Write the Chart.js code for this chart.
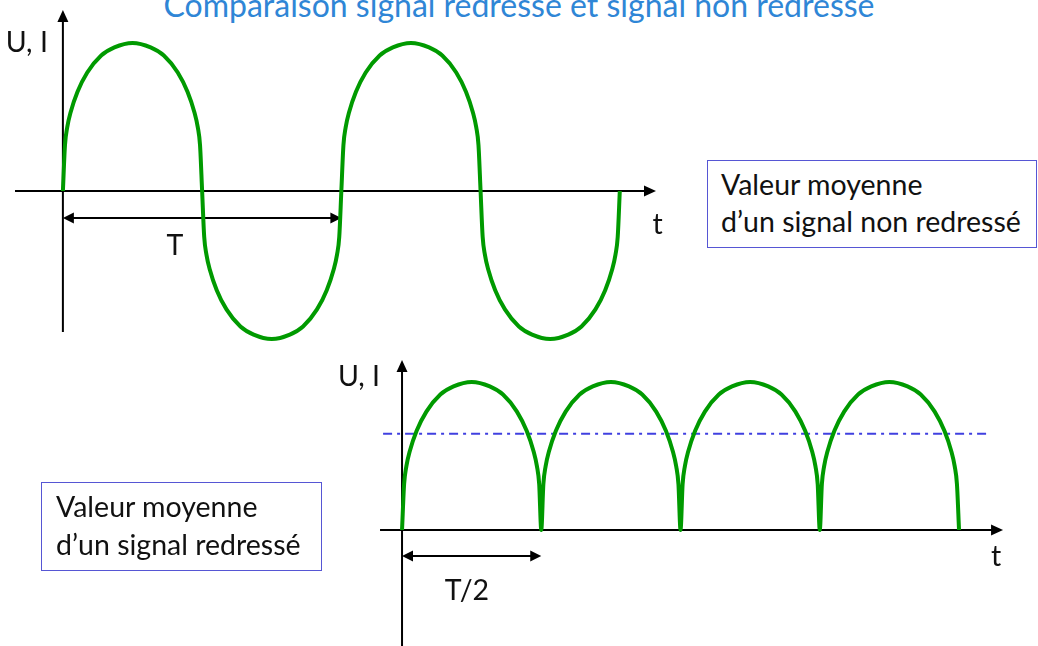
<!DOCTYPE html>
<html>
<head>
<meta charset="utf-8">
<script src="https://cdn.jsdelivr.net/npm/chart.js@4/dist/chart.umd.min.js"></script>
<style>
  html, body { margin: 0; padding: 0; background: #fff; }
  body { width: 1038px; height: 646px; position: relative; overflow: hidden; font-family: Lato, "Liberation Sans", sans-serif; }
  #title { position: absolute; left: 0; top: -11px; width: 1038px; text-align: center; color: #2f86d6; font-size: 32px; line-height: 32px; white-space: nowrap; }
  .box { position: absolute; box-sizing: border-box; border: 1.5px solid #5656d4; font-size: 28.5px; color: #111; white-space: nowrap; }
  #box1 { left: 707px; top: 160px; width: 330px; height: 88px; padding: 5px 0 0 13px; line-height: 37px; }
  #box2 { left: 41px; top: 482px; width: 281px; height: 89px; padding: 4px 0 0 14px; line-height: 38px; }
  canvas { position: absolute; }
  #top { left: 0; top: 0; }
  #bottom { left: 320px; top: 340px; }
</style>
</head>
<body>
<div id="title">Comparaison signal redressé et signal non redressé</div>
<canvas id="top" width="700" height="346"></canvas>
<canvas id="bottom" width="718" height="306"></canvas>
<div class="box" id="box1">Valeur moyenne<br>d’un signal non redressé</div>
<div class="box" id="box2">Valeur moyenne<br>d’un signal redressé</div>
<script>
// temps en périodes T
var tSamples = [
  0, 0.0075, 0.0155, 0.0275, 0.0525, 0.0875, 0.1375, 0.185, 0.25, 0.315, 0.3625, 0.4125, 0.4475, 0.4725, 0.4845, 0.4925,
  0.5, 0.5075, 0.5155, 0.5275, 0.5525, 0.5875, 0.6375, 0.685, 0.75, 0.815, 0.8625, 0.9125, 0.9475, 0.9725, 0.9845, 0.9925,
  1, 1.0075, 1.0155, 1.0275, 1.0525, 1.0875, 1.1375, 1.185, 1.25, 1.315, 1.3625, 1.4125, 1.4475, 1.4725, 1.4845, 1.4925,
  1.5, 1.5075, 1.5155, 1.5275, 1.5525, 1.5875, 1.6375, 1.685, 1.75, 1.815, 1.8625, 1.9125, 1.9475, 1.9725, 1.9845, 1.9925,
  2
];
// signal non redressé (U, I)
var uSignal = [
  0, 0.31, 0.43, 0.53, 0.67, 0.8, 0.915, 0.97, 1, 0.97, 0.915, 0.8, 0.67, 0.53, 0.43, 0.31,
  0, -0.31, -0.43, -0.53, -0.67, -0.8, -0.915, -0.97, -1, -0.97, -0.915, -0.8, -0.67, -0.53, -0.43, -0.31,
  0, 0.31, 0.43, 0.53, 0.67, 0.8, 0.915, 0.97, 1, 0.97, 0.915, 0.8, 0.67, 0.53, 0.43, 0.31,
  0, -0.31, -0.43, -0.53, -0.67, -0.8, -0.915, -0.97, -1, -0.97, -0.915, -0.8, -0.67, -0.53, -0.43, -0.31,
  0
];
// signal redressé
var uRedresse = [
  0, 0.31, 0.43, 0.53, 0.67, 0.8, 0.915, 0.97, 1, 0.97, 0.915, 0.8, 0.67, 0.53, 0.43, 0.31,
  0, 0.31, 0.43, 0.53, 0.67, 0.8, 0.915, 0.97, 1, 0.97, 0.915, 0.8, 0.67, 0.53, 0.43, 0.31,
  0, 0.31, 0.43, 0.53, 0.67, 0.8, 0.915, 0.97, 1, 0.97, 0.915, 0.8, 0.67, 0.53, 0.43, 0.31,
  0, 0.31, 0.43, 0.53, 0.67, 0.8, 0.915, 0.97, 1, 0.97, 0.915, 0.8, 0.67, 0.53, 0.43, 0.31,
  0
];
var meanValue = 0.65;
var meanRange = [-0.068, 2.1];
var axisLabel = 'U, I';
var timeLabel = 't';

function points(ts, us) {
  return ts.map(function(t, i) { return { x: t, y: us[i] }; });
}

function arrowHead(ctx, x, y, dx, dy, len, half) {
  // pointe en (x,y), direction (dx,dy)
  ctx.beginPath();
  ctx.moveTo(x, y);
  ctx.lineTo(x - dx * len - dy * half, y - dy * len + dx * half);
  ctx.lineTo(x - dx * len + dy * half, y - dy * len - dx * half);
  ctx.closePath();
  ctx.fill();
}

var decor = {
  id: 'decor',
  beforeDatasetsDraw: function(chart, args, o) {
    var ctx = chart.ctx, xs = chart.scales.x, ys = chart.scales.y;
    var X = function(v) { return xs.getPixelForValue(v); };
    var Y = function(v) { return ys.getPixelForValue(v); };
    ctx.save();
    ctx.strokeStyle = '#000';
    ctx.fillStyle = '#000';
    ctx.lineWidth = 2;
    // axe du temps
    ctx.beginPath();
    ctx.moveTo(X(o.xAxis[0]), Y(0));
    ctx.lineTo(X(o.xAxis[1]) - 8, Y(0));
    ctx.stroke();
    arrowHead(ctx, X(o.xAxis[1]), Y(0), 1, 0, 12, 5.5);
    // axe U, I
    ctx.beginPath();
    ctx.moveTo(X(0), Y(o.yAxis[0]));
    ctx.lineTo(X(0), Y(o.yAxis[1]) + 8);
    ctx.stroke();
    arrowHead(ctx, X(0), Y(o.yAxis[1]), 0, -1, 12, 5.5);
    // flèche de période
    var ya = Y(o.span.y), x0 = X(o.span.from), x1 = X(o.span.to);
    ctx.beginPath();
    ctx.moveTo(x0 + 6, ya);
    ctx.lineTo(x1 - 6, ya);
    ctx.stroke();
    arrowHead(ctx, x0, ya, -1, 0, 11, 5.5);
    arrowHead(ctx, x1, ya, 1, 0, 11, 5.5);
    // textes
    ctx.font = '28.5px Lato, "Liberation Sans", sans-serif';
    ctx.fillStyle = '#111';
    ctx.textBaseline = 'alphabetic';
    o.labels.forEach(function(l) {
      ctx.textAlign = l.align;
      ctx.fillText(l.text, X(l.x), Y(l.y));
    });
    ctx.restore();
  }
};

var common = {
  responsive: false,
  animation: false,
  events: [],
  elements: { point: { radius: 0 }, line: { cubicInterpolationMode: 'monotone', borderJoinStyle: 'round', borderCapStyle: 'butt' } },
  plugins: { legend: { display: false }, tooltip: { enabled: false } }
};

new Chart(document.getElementById('top'), {
  type: 'scatter',
  data: {
    datasets: [{
      data: points(tSamples, uSignal),
      showLine: true,
      borderColor: '#009a00',
      borderWidth: 4,
      fill: false
    }]
  },
  options: Object.assign({}, common, {
    layout: { padding: { left: 15, top: 8, right: 44, bottom: 0 } },
    scales: {
      x: { type: 'linear', display: false, min: -0.172, max: 2.13 },
      y: { type: 'linear', display: false, min: -1.047, max: 1.236 }
    },
    plugins: Object.assign({}, common.plugins, {
      decor: {
        xAxis: [-0.172, 2.13],
        yAxis: [-0.953, 1.223],
        span: { from: 0, to: 1, y: -0.182 },
        labels: [
          { text: axisLabel, x: -0.054, y: 0.94, align: 'right' },
          { text: timeLabel, x: 2.136, y: -0.29, align: 'center' },
          { text: 'T', x: 0.402, y: -0.43, align: 'center' }
        ]
      }
    })
  }),
  plugins: [decor]
});

new Chart(document.getElementById('bottom'), {
  type: 'scatter',
  data: {
    datasets: [{
      data: points(tSamples, uRedresse),
      showLine: true,
      borderColor: '#009a00',
      borderWidth: 4,
      fill: false,
      order: 0
    }, {
      data: [{ x: meanRange[0], y: meanValue }, { x: meanRange[1], y: meanValue }],
      showLine: true,
      borderColor: '#4040e0',
      borderWidth: 2,
      borderDash: [9, 5, 3, 5],
      fill: false,
      order: 1
    }]
  },
  options: Object.assign({}, common, {
    layout: { padding: { left: 50, top: 10, right: 28, bottom: 0 } },
    scales: {
      x: { type: 'linear', display: false, min: -0.115, max: 2.183 },
      y: { type: 'linear', display: false, min: -0.784, max: 1.216 }
    },
    plugins: Object.assign({}, common.plugins, {
      decor: {
        xAxis: [-0.079, 2.158],
        yAxis: [-0.784, 1.149],
        span: { from: 0, to: 0.5, y: -0.176 },
        labels: [
          { text: axisLabel, x: -0.079, y: 0.973, align: 'right' },
          { text: timeLabel, x: 2.133, y: -0.243, align: 'center' },
          { text: 'T/2', x: 0.233, y: -0.47, align: 'center' }
        ]
      }
    })
  }),
  plugins: [decor]
});
</script>
</body>
</html>
